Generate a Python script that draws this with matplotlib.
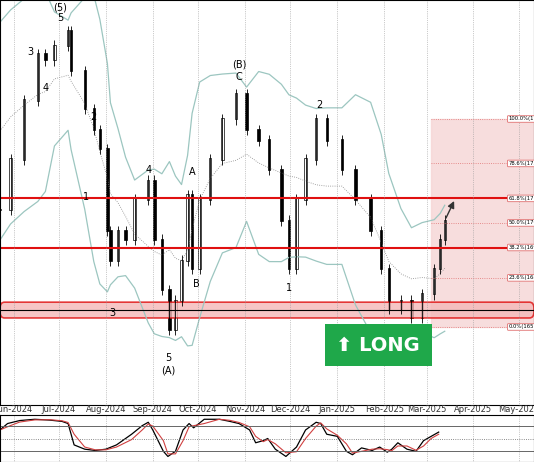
import matplotlib.pyplot as plt
import matplotlib.dates as mdates
import numpy as np
import pandas as pd
from matplotlib.patches import FancyBboxPatch, Rectangle

# price path (date, close)
price_dates = ["2024-05-23", "2024-05-30", "2024-06-08", "2024-06-17", "2024-06-22", "2024-06-28",
               "2024-07-07", "2024-07-09", "2024-07-18", "2024-07-24", "2024-07-28", "2024-08-02",
               "2024-08-04", "2024-08-09", "2024-08-14", "2024-08-20", "2024-08-29", "2024-09-02",
               "2024-09-07", "2024-09-12", "2024-09-16", "2024-09-20", "2024-09-24", "2024-09-27",
               "2024-10-02", "2024-10-09", "2024-10-17", "2024-10-26", "2024-11-02", "2024-11-10",
               "2024-11-17", "2024-11-25", "2024-11-30", "2024-12-05", "2024-12-11", "2024-12-18",
               "2024-12-25", "2025-01-04", "2025-01-13", "2025-01-23", "2025-01-30", "2025-02-04",
               "2025-02-12", "2025-02-19", "2025-02-26", "2025-03-06", "2025-03-10", "2025-03-13"]
closes = [171.4, 173.8, 176.6, 178.8, 178.5, 179.2,
          179.9, 178.0, 176.2, 175.2, 174.3, 170.4,
          169.0, 170.4, 170.0, 171.9, 172.8, 170.0,
          167.6, 165.7, 167.1, 169.0, 172.1, 168.6,
          171.9, 173.8, 175.7, 176.9, 175.2, 174.7,
          173.3, 170.9, 168.6, 171.9, 173.8, 175.7,
          174.7, 173.3, 171.9, 170.4, 168.6, 166.7,
          167.1, 166.3, 167.4, 168.6, 170.0, 170.9]

osc_dates = ["2024-05-23", "2024-05-28", "2024-06-05", "2024-06-15", "2024-06-25", "2024-07-03",
             "2024-07-07", "2024-07-11", "2024-07-18", "2024-07-25", "2024-08-01", "2024-08-08",
             "2024-08-18", "2024-08-25", "2024-08-29", "2024-09-01", "2024-09-08", "2024-09-11",
             "2024-09-16", "2024-09-21", "2024-09-25", "2024-09-28", "2024-10-05", "2024-10-15",
             "2024-10-22", "2024-10-28", "2024-11-04", "2024-11-08", "2024-11-13", "2024-11-16",
             "2024-11-21", "2024-11-28", "2024-12-05", "2024-12-11", "2024-12-18", "2024-12-21",
             "2024-12-25", "2025-01-01", "2025-01-07", "2025-01-11", "2025-01-17", "2025-01-24",
             "2025-01-29", "2025-02-03", "2025-02-06", "2025-02-10", "2025-02-16", "2025-02-22",
             "2025-02-27", "2025-03-04", "2025-03-09"]
osc = [70, 85, 92, 95, 93, 90, 85, 35, 25, 22, 25, 35, 60, 80, 88, 70, 20, 8, 20, 70, 85, 75,
       95, 95, 90, 85, 70, 40, 45, 50, 25, 8, 30, 70, 88, 85, 60, 55, 20, 12, 28, 22, 30, 18,
       25, 40, 25, 20, 45, 55, 65]

fib_pct = ["0.0%", "23.6%", "38.2%", "50.0%", "61.8%", "78.6%", "100.0%"]
fib_px = [165.852, 168.183, 169.624, 170.790, 171.955, 173.614, 175.723]

months = ["Jun-2024", "Jul-2024", "Aug-2024", "Sep-2024", "Oct-2024", "Nov-2024", "Dec-2024",
          "Jan-2025", "Feb-2025", "Mar-2025", "Apr-2025", "May-2025"]
month_dates = pd.date_range("2024-06-01", periods=12, freq="MS")

waves = [("3", "2024-06-12", 178.9), ("4", "2024-06-22", 177.2), ("(5)", "2024-07-02", 181.0),
         ("5", "2024-07-02", 180.5), ("2", "2024-07-24", 175.8), ("1", "2024-07-19", 172.0),
         ("3", "2024-08-05", 166.5), ("4", "2024-08-29", 173.3), ("5", "2024-09-11", 164.4),
         ("(A)", "2024-09-11", 163.8), ("A", "2024-09-27", 173.2), ("B", "2024-09-30", 167.9),
         ("(B)", "2024-10-28", 178.3), ("C", "2024-10-28", 177.7), ("1", "2024-11-30", 167.7),
         ("2", "2024-12-20", 176.4)]

xmin, xmax = pd.Timestamp("2024-05-23"), pd.Timestamp("2025-05-11")
ymin, ymax = 162.15, 181.37

fig = plt.figure(figsize=(5.34, 4.62), dpi=100)
ax = fig.add_axes([0, 57 / 462, 1, 405 / 462])
ax2 = fig.add_axes([0, 0, 1, 47 / 462])

d = pd.to_datetime(price_dates)
s = pd.Series(closes, index=d)
mid = s.rolling(8, min_periods=1, center=True).mean()
sd = s.rolling(8, min_periods=2, center=True).std().bfill()
ax.plot(d, mid, color="#888888", lw=0.6, ls=":")
ax.plot(d, mid + 1.6 * sd, color="#9cc6c0", lw=0.9)
ax.plot(d, mid - 1.6 * sd, color="#9cc6c0", lw=0.9)

opens = [closes[0]] + closes[:-1]
for t, o, c in zip(d, opens, closes):
    lo, hi = min(o, c), max(o, c)
    ax.vlines(t, lo - 0.25, hi + 0.25, color="black", lw=0.6)
    ax.bar(t, hi - lo + 0.05, bottom=lo, width=1.6, color="white" if c >= o else "black",
           edgecolor="black", lw=0.5)

# projection
ax.annotate("", xy=(pd.Timestamp("2025-03-20"), 171.95), xytext=(d[-1], closes[-1]),
            arrowprops=dict(arrowstyle="-|>", color="#333333", lw=1))

# fib zone
fx0 = pd.Timestamp("2025-03-04")
ax.add_patch(Rectangle((mdates.date2num(fx0), fib_px[0]), mdates.date2num(xmax) - mdates.date2num(fx0),
                       fib_px[-1] - fib_px[0], color="#f6d5d5", alpha=0.8, zorder=0))
for p, v in zip(fib_pct, fib_px):
    ax.hlines(v, fx0, xmax, color="#e07070", lw=0.6, ls=":")
    ax.text(pd.Timestamp("2025-04-24"), v, f"{p}({v:.3f})", fontsize=3.8, va="center",
            bbox=dict(boxstyle="round,pad=0.15", fc="white", ec="#e07070", lw=0.6))

for v in [171.95, 169.62]:
    ax.axhline(v, color="#e01010", lw=1.5)
ax.add_patch(FancyBboxPatch((mdates.date2num(xmin), 166.28), mdates.date2num(xmax) - mdates.date2num(xmin),
                            0.75, boxstyle="round,pad=0,rounding_size=3", fc="#f4b8b8", ec="#e01010",
                            lw=1.2, alpha=0.8, mutation_aspect=0.1))
ax.axhline(166.65, color="black", lw=0.8)

for t in month_dates:
    ax.axvline(t, color="#999999", lw=0.5, ls=":")
    ax2.axvline(t, color="#999999", lw=0.5, ls=":")

for lbl, t, v in waves:
    ax.text(pd.Timestamp(t), v, lbl, fontsize=7, ha="center", va="center")

ax.text(0.708, 0.148, "\u2b06 LONG", transform=ax.transAxes, fontsize=14, weight="bold", color="white",
        ha="center", va="center", bbox=dict(boxstyle="square,pad=0.6", fc="#1fa84a", ec="none"))

ax.set_xlim(xmin, xmax)
ax.set_ylim(ymin, ymax)
ax.set_xticks([])
ax.set_yticks([])

for t, m in zip(month_dates, months):
    fig.text((t - xmin).days / (xmax - xmin).days, 52 / 462, m,
             fontsize=6, ha="center", va="center", color="#333333")

od = pd.to_datetime(osc_dates)
os_ = pd.Series(osc, index=od)
ax2.plot(od, os_, color="black", lw=0.9)
ax2.plot(od, os_.rolling(2, min_periods=1).mean(), color="#d04040", lw=0.8)
ax2.axhline(80, color="#666666", lw=0.7)
ax2.axhline(50, color="#666666", lw=0.6, ls=":")
ax2.axhline(20, color="#666666", lw=0.7)
ax2.set_xlim(xmin, xmax)
ax2.set_ylim(-5, 105)
ax2.set_xticks([])
ax2.set_yticks([])

fig.savefig("out.png", dpi=100)
